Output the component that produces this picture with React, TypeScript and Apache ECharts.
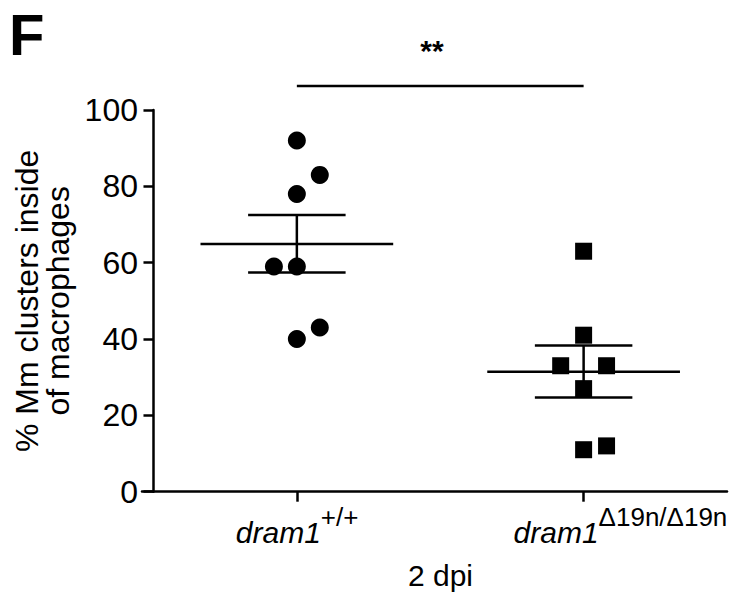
import React, { useEffect, useRef } from "react";
import * as echarts from "echarts";

// ---- data ----
const groupX = [0.5, 1.5];
const groupNames = ["dram1 +/+", "dram1 Δ19n/Δ19n"];
const groupSup = ["+/+", "Δ19n/Δ19n"];
const wildTypePoints: [number, number][] = [
  [0.5, 92], [0.58, 83], [0.5, 78], [0.42, 59], [0.5, 59], [0.58, 43], [0.5, 40],
];
const mutantPoints: [number, number][] = [
  [1.5, 63], [1.5, 41], [1.42, 33], [1.58, 33], [1.5, 27], [1.5, 11], [1.58, 12],
];
const means = [64.9, 31.4];
const semUpper = [72.5, 38.3];
const semLower = [57.4, 24.7];
const yTicks = { min: 0, max: 100, interval: 20 };
const sigLevel = 106.3;
const sigText = "**";
const xName = "2 dpi";
const yName = "% Mm clusters inside\nof macrophages";
const panelLetter = "F";

// ---- styles ----
const FONT = "'Liberation Sans', Arial, Helvetica, sans-serif";
const BLACK = "#000";
const LW = 2.5;
const MEAN_HALF = 0.336;
const SEM_HALF = 0.17;
const LABEL_SIZE = 30;
const SUP_SIZE = 26;
// where the end of "dram1" sits relative to its tick (px)
const LABEL_END_OFFSET = [24, 15];

function measure(text: string, font: string): number {
  const c = document.createElement("canvas").getContext("2d");
  if (!c) return text.length * 15;
  c.font = font;
  return c.measureText(text).width;
}

export default function App() {
  const ref = useRef<HTMLDivElement>(null);
  useEffect(() => {
    document.body.style.margin = "0";
    if (!ref.current) return;
    const chart = echarts.init(ref.current, undefined, { renderer: "svg" });

    const D = measure("dram1", `italic ${LABEL_SIZE}px 'Liberation Sans'`);
    const spacers = groupSup.map((s, i) => {
      const S = measure(s, `${SUP_SIZE}px 'Liberation Sans'`);
      const off = LABEL_END_OFFSET[i];
      const w = D - S - 2 * off; // spacer at the end if positive
      return w >= 0 ? { end: w, start: 0 } : { end: 0, start: -w };
    });
    const rich: any = {
      it: { fontSize: LABEL_SIZE, fontStyle: "italic", fontFamily: FONT, color: BLACK, lineHeight: 58 },
      sup: { fontSize: SUP_SIZE, fontFamily: FONT, color: BLACK, verticalAlign: "top", lineHeight: 28 },
    };
    spacers.forEach((sp, i) => {
      rich["s" + i] = { width: Math.max(sp.start, 0.01), fontSize: 8 };
      rich["e" + i] = { width: Math.max(sp.end, 0.01), fontSize: 8 };
    });

    const option: any = {
      animation: false,
      backgroundColor: "#fff",
      textStyle: { fontFamily: FONT, color: BLACK },
      grid: { left: 142, right: 16, top: 110, bottom: 103.3, containLabel: false, outerBoundsMode: "none" },
      xAxis: {
        type: "value",
        min: -0.04,
        max: 2,
        splitLine: { show: false },
        axisLine: { show: true, onZero: true, lineStyle: { color: BLACK, width: LW } },
        axisTick: { show: true, customValues: groupX, length: 10, lineStyle: { color: BLACK, width: LW } },
        axisLabel: {
          customValues: groupX,
          margin: 12,
          color: BLACK,
          formatter: (v: number) => {
            const i = groupX.indexOf(v);
            if (i < 0) return "";
            return `{s${i}| }{it|dram1}{sup|${groupSup[i]}}{e${i}| }`;
          },
          rich,
        },
        name: xName,
        nameLocation: "middle",
        nameGap: 68,
        nameTextStyle: { fontSize: 30, lineHeight: 32, color: BLACK, fontFamily: FONT, padding: [0, 0, 0, 12] },
      },
      yAxis: {
        type: "value",
        min: yTicks.min,
        max: yTicks.max,
        interval: yTicks.interval,
        splitLine: { show: false },
        axisLine: { show: true, onZero: true, lineStyle: { color: BLACK, width: LW } },
        axisTick: { show: true, length: 10, lineStyle: { color: BLACK, width: LW } },
        axisLabel: { fontSize: 32, color: BLACK, margin: 4, fontFamily: FONT },
        name: yName,
        nameLocation: "middle",
        nameGap: 69,
        nameTextStyle: { fontSize: 32, color: BLACK, lineHeight: 31, fontFamily: FONT, align: "center" },
      },
      series: [
        {
          type: "custom",
          name: "mean ± SEM",
          data: groupX.map((x, i) => [x, means[i], semUpper[i], semLower[i]]),
          encode: { x: 0, y: 1 },
          z: 1,
          renderItem: (params: any, api: any) => {
            const x = api.value(0);
            const m = api.value(1);
            const hi = api.value(2);
            const lo = api.value(3);
            const seg = (x1: number, y1: number, x2: number, y2: number) => {
              const a = api.coord([x1, y1]);
              const b = api.coord([x2, y2]);
              return {
                type: "line",
                shape: { x1: a[0], y1: a[1], x2: b[0], y2: b[1] },
                style: { stroke: BLACK, lineWidth: LW },
              };
            };
            return {
              type: "group",
              children: [
                seg(x - MEAN_HALF, m, x + MEAN_HALF, m),
                seg(x - SEM_HALF, hi, x + SEM_HALF, hi),
                seg(x - SEM_HALF, lo, x + SEM_HALF, lo),
                seg(x, hi, x, lo),
              ],
            };
          },
        },
        {
          type: "scatter",
          name: groupNames[0],
          data: wildTypePoints,
          symbol: "circle",
          symbolSize: 18,
          itemStyle: { color: BLACK, opacity: 1 },
          z: 3,
        },
        {
          type: "scatter",
          name: groupNames[1],
          data: mutantPoints,
          symbol: "rect",
          symbolSize: 17,
          itemStyle: { color: BLACK, opacity: 1 },
          z: 3,
        },
        {
          type: "line",
          name: "significance",
          data: [[groupX[0], sigLevel], [groupX[1], sigLevel]],
          symbol: "none",
          clip: false,
          lineStyle: { color: BLACK, width: LW },
        },
      ],
      graphic: [
        {
          type: "text",
          left: 9,
          top: 5,
          style: { text: panelLetter, fontSize: 58, fontWeight: "bold", fontFamily: FONT, fill: BLACK },
        },
        {
          type: "text",
          x: 432,
          y: 50,
          style: { text: sigText, fontSize: 30, fontWeight: "bold", fontFamily: FONT, fill: BLACK, align: "center", verticalAlign: "middle" },
        },
      ],
    };
    chart.setOption(option);
    return () => chart.dispose();
  }, []);
  return <div ref={ref} style={{ width: 743, height: 595 }} />;
}
